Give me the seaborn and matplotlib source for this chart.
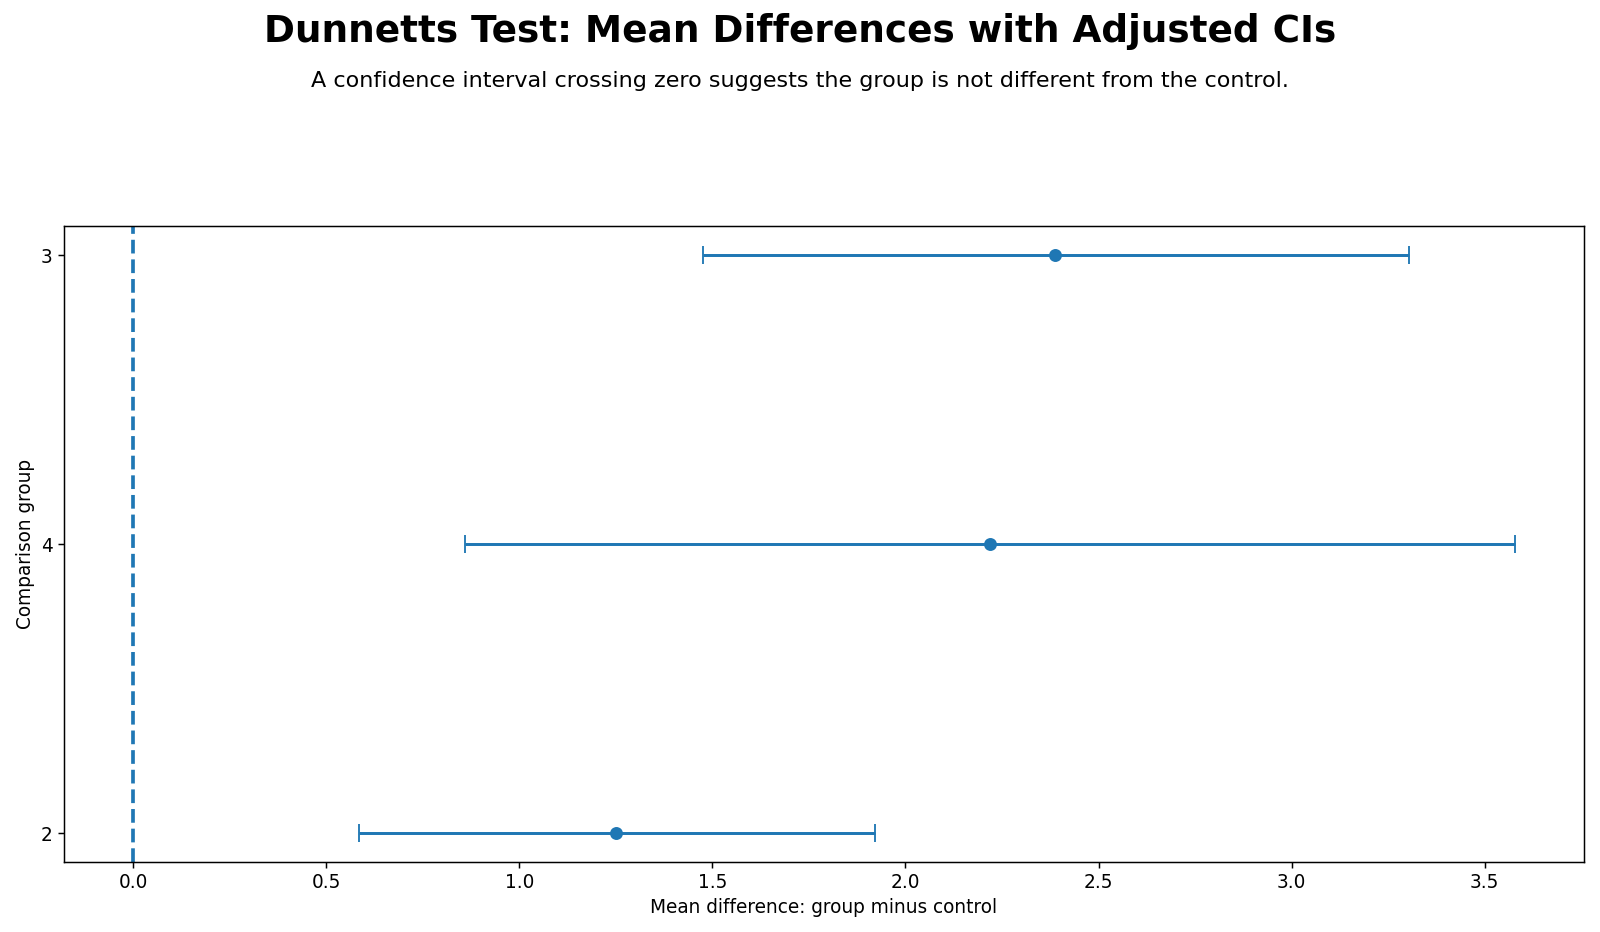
import numpy as np
import pandas as pd
import matplotlib
matplotlib.use("Agg")
import matplotlib.pyplot as plt
import seaborn as sns

# comparison groups (bottom to top) and Dunnett results
groups = ["2", "4", "3"]
mean_diff = [1.251, 2.219, 2.388]
ci_lower = [0.585, 0.859, 1.476]
ci_upper = [1.921, 3.578, 3.303]

df = pd.DataFrame({"group": groups, "diff": mean_diff,
                   "lower": ci_lower, "upper": ci_upper})
df["pos"] = np.arange(len(df))

k = 4 / 3  # scale factor
sns.set_style("ticks", rc={"axes.edgecolor": "black", "text.color": "black",
                           "axes.labelcolor": "black", "xtick.color": "black",
                           "ytick.color": "black"})
plt.rcParams['font.family'] = ['DejaVu Sans']

fig, ax = plt.subplots(figsize=(16, 9.32), dpi=100)
color = "#1f77b4"

# error bars for adjusted CIs
ax.errorbar(df["diff"], df["pos"],
            xerr=[df["diff"] - df["lower"], df["upper"] - df["diff"]],
            fmt="none", ecolor=color, elinewidth=1.6 * k, capsize=5 * k, capthick=1 * k)
sns.scatterplot(data=df, x="diff", y="pos", color=color, s=(7 * k) ** 2,
                edgecolor=color, linewidth=0, ax=ax, zorder=3)

# zero reference line
ax.axvline(0, color=color, linestyle="--", linewidth=2 * k)

ax.set_yticks(df["pos"])
ax.set_yticklabels(df["group"])
ax.set_xlabel("Mean difference: group minus control", fontsize=10 * k)
ax.set_ylabel("Comparison group", fontsize=10 * k)
ax.tick_params(labelsize=10 * k, length=3.5 * k, width=0.8 * k)

for s in ax.spines.values():
    s.set_visible(True)
    s.set_linewidth(0.8 * k)

fig.text(0.5, 0.9546, "Dunnetts Test: Mean Differences with Adjusted CIs",
         ha="center", va="baseline", fontsize=20.2 * k, fontweight="bold")
fig.text(0.5, 0.9063, "A confidence interval crossing zero suggests the group is not different from the control.",
         ha="center", va="baseline", fontsize=12 * k)

plt.subplots_adjust(left=0.040, right=0.990, top=0.757, bottom=0.075)
plt.savefig("out.png", dpi=100)
